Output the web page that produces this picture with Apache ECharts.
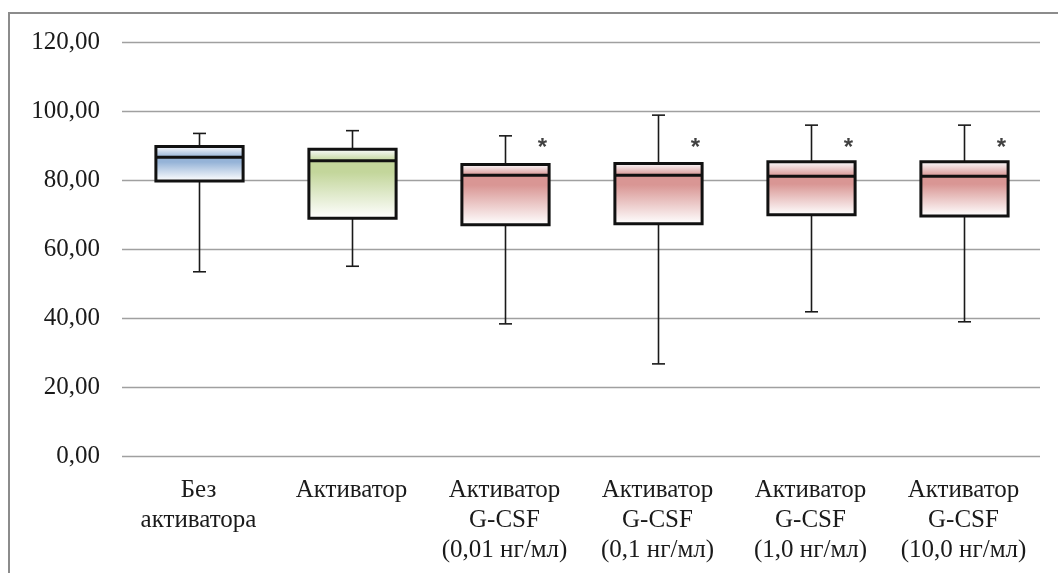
<!DOCTYPE html>
<html>
<head>
<meta charset="utf-8">
<script src="https://cdn.jsdelivr.net/npm/echarts@6/dist/echarts.min.js"></script>
<style>
  html, body { margin: 0; padding: 0; background: #fff; }
  #chart { width: 1058px; height: 573px; }
</style>
</head>
<body>
<div id="chart"></div>
<script>
// Group labels (x axis)
const categories = [
  'Без\nактиватора',
  'Активатор',
  'Активатор\nG-CSF\n(0,01 нг/мл)',
  'Активатор\nG-CSF\n(0,1 нг/мл)',
  'Активатор\nG-CSF\n(1,0 нг/мл)',
  'Активатор\nG-CSF\n(10,0 нг/мл)'
];

// Five-number summaries per group
const whiskerLow  = [53.4, 55.0, 38.3, 26.7, 41.8, 38.9];
const quartile1   = [79.7, 68.9, 67.0, 67.3, 69.9, 69.6];
const medians     = [86.6, 85.6, 81.4, 81.4, 81.1, 81.1];
const quartile3   = [89.7, 88.9, 84.5, 84.8, 85.3, 85.3];
const whiskerHigh = [93.5, 94.3, 92.8, 98.8, 95.9, 95.9];

// Significance marks (asterisks) and the level they sit at
const significant = [false, false, true, true, true, true];
const starLevel = 90.7;

// Fill tone per group
const tones = ['#95b3d7', '#c3d69b', '#d99694', '#d99694', '#d99694', '#d99694'];

// Y axis range
const yMin = 0, yMax = 120, yStep = 20;

const boxData = categories.map((c, i) => [
  i, whiskerLow[i], quartile1[i], medians[i], quartile3[i], whiskerHigh[i]
]);
const starData = categories.map((c, i) => significant[i] ? [i, starLevel] : null).filter(Boolean);

function renderBox(params, api) {
  const i = api.value(0);
  const low = api.coord([i, api.value(1)]);
  const q1 = api.coord([i, api.value(2)]);
  const med = api.coord([i, api.value(3)]);
  const q3 = api.coord([i, api.value(4)]);
  const high = api.coord([i, api.value(5)]);
  const bw = api.size([1, 0])[0] * 0.57;
  const cx = Math.round(low[0]) + 0.5;
  const x0 = cx - bw / 2;
  const capW = 13;
  const tone = tones[i];
  const whiskerStyle = { stroke: '#1a1a1a', lineWidth: 1.6 };
  return {
    type: 'group',
    children: [
      { type: 'line', shape: { x1: cx, y1: q1[1], x2: cx, y2: low[1] }, style: whiskerStyle },
      { type: 'line', shape: { x1: cx - capW / 2, y1: low[1], x2: cx + capW / 2, y2: low[1] }, style: whiskerStyle },
      { type: 'line', shape: { x1: cx, y1: q3[1], x2: cx, y2: high[1] }, style: whiskerStyle },
      { type: 'line', shape: { x1: cx - capW / 2, y1: high[1], x2: cx + capW / 2, y2: high[1] }, style: whiskerStyle },
      // upper half: pale at Q3, deepening toward the median
      {
        type: 'rect',
        shape: { x: x0, y: q3[1], width: bw, height: med[1] - q3[1] },
        style: {
          fill: new echarts.graphic.LinearGradient(0, 0, 0, 1, [
            { offset: 0, color: '#fbfbfd' },
            { offset: 1, color: tone }
          ])
        }
      },
      // lower half: deep at the median, fading to white at Q1
      {
        type: 'rect',
        shape: { x: x0, y: med[1], width: bw, height: q1[1] - med[1] },
        style: {
          fill: new echarts.graphic.LinearGradient(0, 0, 0, 1, [
            { offset: 0, color: tone },
            { offset: 0.2, color: tone },
            { offset: 1, color: '#ffffff' }
          ])
        }
      },
      {
        type: 'line',
        shape: { x1: x0, y1: med[1], x2: x0 + bw, y2: med[1] },
        style: { stroke: '#111', lineWidth: 3 }
      },
      {
        type: 'rect',
        shape: { x: x0, y: q3[1], width: bw, height: q1[1] - q3[1] },
        style: { fill: null, stroke: '#111', lineWidth: 3 }
      }
    ]
  };
}

const chart = echarts.init(document.getElementById('chart'), null, { renderer: 'canvas' });
chart.setOption({
  animation: false,
  backgroundColor: '#ffffff',
  graphic: [{
    type: 'rect',
    shape: { x: 9, y: 13, width: 1100, height: 620 },
    style: { fill: null, stroke: '#8c8c8c', lineWidth: 2 },
    silent: true
  }],
  grid: { left: 122, right: 18, top: 42, bottom: 117 },
  xAxis: {
    type: 'category',
    data: categories,
    axisLine: { show: false },
    axisTick: { show: false },
    axisLabel: {
      interval: 0,
      margin: 19,
      fontFamily: 'Liberation Serif',
      fontSize: 25,
      lineHeight: 30,
      color: '#1a1a1a'
    }
  },
  yAxis: {
    type: 'value',
    min: yMin,
    max: yMax,
    interval: yStep,
    axisLine: { show: false },
    axisTick: { show: false },
    splitLine: { lineStyle: { color: '#a0a0a0', width: 1.3 } },
    axisLabel: {
      margin: 22,
      fontFamily: 'Liberation Serif',
      fontSize: 25,
      color: '#1a1a1a',
      formatter: v => v.toFixed(2).replace('.', ',')
    }
  },
  series: [
    {
      type: 'custom',
      renderItem: renderBox,
      data: boxData,
      encode: { x: 0, y: [1, 2, 3, 4, 5] },
      z: 3
    },
    {
      type: 'scatter',
      data: starData,
      symbolSize: 0,
      z: 4,
      label: {
        show: true,
        position: 'inside',
        offset: [38, 5],
        formatter: '*',
        fontFamily: 'Liberation Sans',
        fontWeight: 'bold',
        fontSize: 24,
        color: '#111'
      }
    }
  ]
});
</script>
</body>
</html>
